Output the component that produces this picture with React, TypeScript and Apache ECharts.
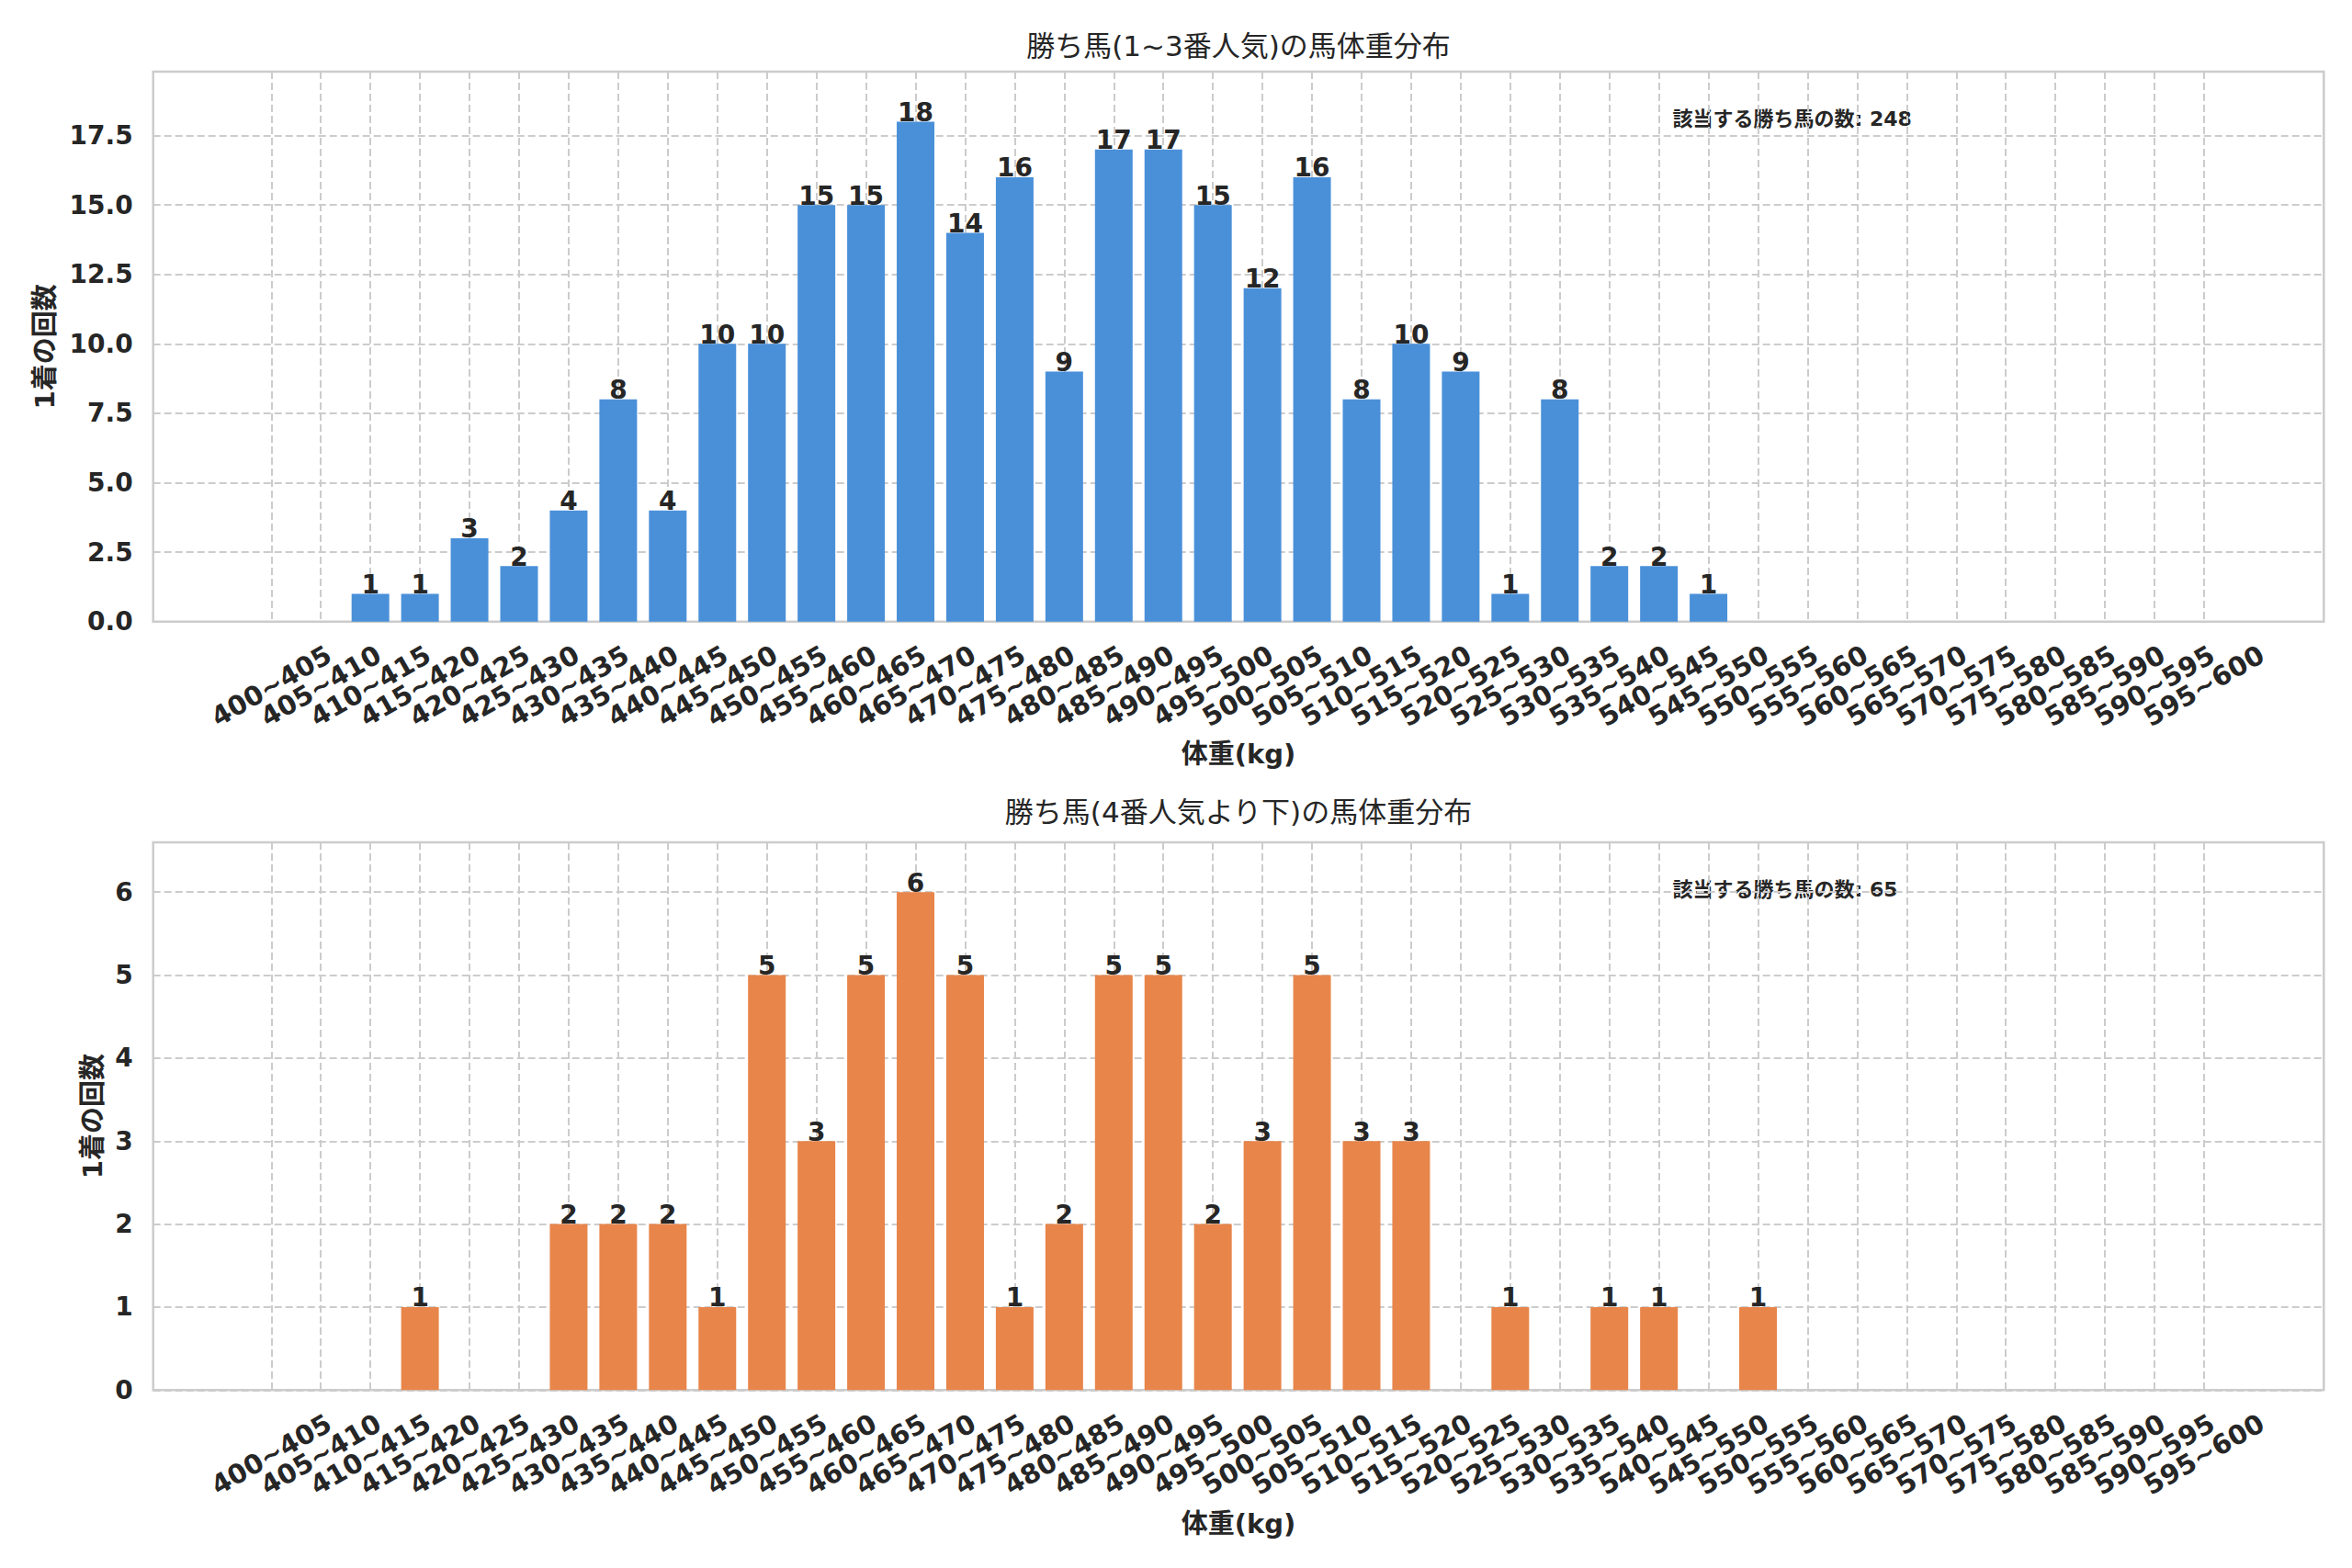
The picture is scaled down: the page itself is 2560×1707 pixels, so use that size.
import React, { useEffect, useRef } from "react";
import * as echarts from "echarts";

const categories = [
  "400~405", "405~410", "410~415", "415~420", "420~425", "425~430", "430~435", "435~440",
  "440~445", "445~450", "450~455", "455~460", "460~465", "465~470", "470~475", "475~480",
  "480~485", "485~490", "490~495", "495~500", "500~505", "505~510", "510~515", "515~520",
  "520~525", "525~530", "530~535", "535~540", "540~545", "545~550", "550~555", "555~560",
  "560~565", "565~570", "570~575", "575~580", "580~585", "585~590", "590~595", "595~600",
];

const favCounts = [
  0, 0, 1, 1, 3, 2, 4, 8, 4, 10, 10, 15, 15, 18, 14, 16, 9, 17, 17, 15,
  12, 16, 8, 10, 9, 1, 8, 2, 2, 1, 0, 0, 0, 0, 0, 0, 0, 0, 0, 0,
];

const longCounts = [
  0, 0, 0, 1, 0, 0, 2, 2, 2, 1, 5, 3, 5, 6, 5, 1, 2, 5, 5, 2,
  3, 5, 3, 3, 0, 1, 0, 1, 1, 0, 1, 0, 0, 0, 0, 0, 0, 0, 0, 0,
];

const titleFav = "勝ち馬(1~3番人気)の馬体重分布";
const titleLong = "勝ち馬(4番人気より下)の馬体重分布";
const yName = "1着の回数";
const xName = "体重(kg)";
const notePrefix = "該当する勝ち馬の数";

const FONT = "'DejaVu Sans', 'Noto Sans CJK JP', sans-serif";
const TXT = "#262626";
const GRIDC = "#cccccc";

export default function App() {
  const ref = useRef<HTMLDivElement>(null);

  useEffect(() => {
    if (!ref.current) return;
    document.body.style.margin = "0";
    const chart = echarts.init(ref.current, undefined, { renderer: "svg" });

    const frameLeft = 166.7;
    const frameW = 2362.6;
    const dataLeft = 295.3;
    const dataW = 2103.7;
    const panels = [
      { top: 78, height: 598.7 },
      { top: 917, height: 596.3 },
    ];

    const favMax = Math.max(...favCounts) * 1.1;
    const longMax = Math.max(...longCounts) * 1.1;
    const favSum = favCounts.reduce((a, b) => a + b, 0);
    const longSum = longCounts.reduce((a, b) => a + b, 0);

    const dashed = { show: true, lineStyle: { type: [8, 4] as any, color: GRIDC, width: 2 } };

    const catAxis = (gridIndex: number) => ({
      gridIndex,
      type: "category",
      data: categories,
      boundaryGap: false,
      axisLine: { show: false },
      axisTick: { show: false },
      axisLabel: {
        interval: 0,
        rotate: 30,
        align: "center",
        verticalAlign: "middle",
        margin: 70,
        fontSize: 29,
        fontWeight: "bold",
        color: TXT,
        fontFamily: FONT,
      },
      splitLine: { ...dashed, interval: 0 },
    });

    const valAxis = (gridIndex: number, max: number, interval: number, lastTick: number, digits: number) => ({
      gridIndex,
      type: "value",
      min: 0,
      max,
      interval,
      axisLine: { show: false },
      axisTick: { show: false },
      axisLabel: {
        margin: 22,
        fontSize: 28,
        fontWeight: "bold",
        color: TXT,
        fontFamily: FONT,
        formatter: (v: number) => (v > lastTick + 1e-6 ? "" : v.toFixed(digits)),
      },
      splitLine: dashed,
    });

    const barLabel = {
      show: true,
      position: "top",
      distance: -4,
      fontSize: 28,
      fontWeight: "bold",
      color: TXT,
      fontFamily: FONT,
      formatter: (p: any) => (p.value > 0 ? String(p.value) : ""),
    };

    const centerX = frameLeft + frameW / 2;

    const option: any = {
      animation: false,
      backgroundColor: "#ffffff",
      grid: [
        { left: frameLeft, top: panels[0].top, width: frameW, height: panels[0].height, show: true, borderColor: GRIDC, borderWidth: 2.5, backgroundColor: "transparent" },
        { left: dataLeft, top: panels[0].top, width: dataW, height: panels[0].height },
        { left: frameLeft, top: panels[1].top, width: frameW, height: panels[1].height, show: true, borderColor: GRIDC, borderWidth: 2.5, backgroundColor: "transparent" },
        { left: dataLeft, top: panels[1].top, width: dataW, height: panels[1].height },
      ],
      xAxis: [
        { gridIndex: 0, type: "value", show: false, min: 0, max: 1 },
        catAxis(1),
        { gridIndex: 2, type: "value", show: false, min: 0, max: 1 },
        catAxis(3),
      ],
      yAxis: [
        valAxis(0, favMax, 2.5, 17.5, 1),
        { gridIndex: 1, type: "value", show: false, min: 0, max: favMax },
        valAxis(2, longMax, 1, 6, 0),
        { gridIndex: 3, type: "value", show: false, min: 0, max: longMax },
      ],
      series: [
        {
          type: "bar",
          xAxisIndex: 1,
          yAxisIndex: 1,
          data: favCounts,
          barWidth: "76%",
          itemStyle: { color: "#4A90D9" },
          label: barLabel,
        },
        {
          type: "bar",
          xAxisIndex: 3,
          yAxisIndex: 3,
          data: longCounts,
          barWidth: "76%",
          itemStyle: { color: "#E8854A" },
          label: barLabel,
        },
      ],
      graphic: [
        { type: "text", x: centerX, y: 50, style: { text: titleFav, fontSize: 31, fontFamily: FONT, fill: TXT, align: "center", verticalAlign: "middle" } },
        { type: "text", x: centerX, y: 884, style: { text: titleLong, fontSize: 31, fontFamily: FONT, fill: TXT, align: "center", verticalAlign: "middle" } },
        { type: "text", x: centerX, y: 821, style: { text: xName, fontSize: 29, fontWeight: "bold", fontFamily: FONT, fill: TXT, align: "center", verticalAlign: "middle" } },
        { type: "text", x: centerX, y: 1659, style: { text: xName, fontSize: 29, fontWeight: "bold", fontFamily: FONT, fill: TXT, align: "center", verticalAlign: "middle" } },
        { type: "text", x: 49, y: panels[0].top + panels[0].height / 2, rotation: Math.PI / 2, style: { text: yName, fontSize: 29, fontWeight: "bold", fontFamily: FONT, fill: TXT, align: "center", verticalAlign: "middle" } },
        { type: "text", x: 101, y: panels[1].top + panels[1].height / 2, rotation: Math.PI / 2, style: { text: yName, fontSize: 29, fontWeight: "bold", fontFamily: FONT, fill: TXT, align: "center", verticalAlign: "middle" } },
        { type: "text", x: frameLeft + frameW * 0.7, y: 129, style: { text: `${notePrefix}: ${favSum}`, fontSize: 22, fontWeight: "bold", fontFamily: FONT, fill: TXT, align: "left", verticalAlign: "middle" } },
        { type: "text", x: frameLeft + frameW * 0.7, y: 968, style: { text: `${notePrefix}: ${longSum}`, fontSize: 22, fontWeight: "bold", fontFamily: FONT, fill: TXT, align: "left", verticalAlign: "middle" } },
      ],
    };

    chart.setOption(option);
    return () => chart.dispose();
  }, []);

  return (
    <div
      ref={ref}
      style={{ position: "absolute", left: 0, top: 0, width: 2560, height: 1707, background: "#ffffff" }}
    />
  );
}
